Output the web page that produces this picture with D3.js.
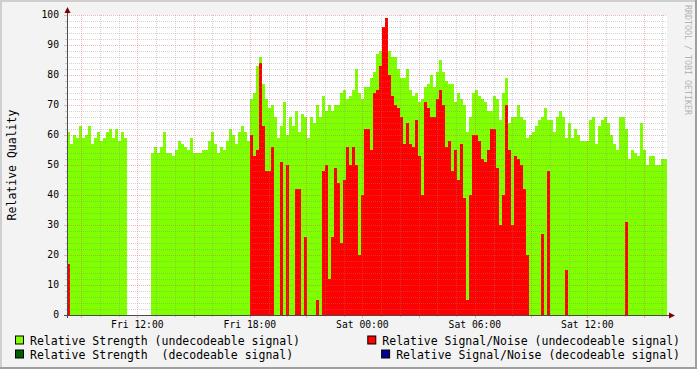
<!DOCTYPE html>
<html><head><meta charset="utf-8">
<script src="https://cdn.jsdelivr.net/npm/d3@7/dist/d3.min.js"></script>
<style>body{margin:0;background:#f3f3f3}svg{display:block}</style>
</head><body><svg id="c" width="697" height="369"></svg>
<script>
// ---- data ----
const startTime = Date.UTC(2010, 0, 1, 8, 15);  // Fri 08:15
const endTime   = Date.UTC(2010, 0, 2, 16, 15); // Sat 16:15
const _ = null;
const strengthUndecodeable = [
 61,57,60,59,63,59,60,63,57,59,61,58,59,61,62,59,62,58,61,59,
 _,_,_,_,_,_,_,_,
 54,56,54,56,61,54,54,53,55,58,57,56,55,59,54,54,54,55,55,58,61,57,54,56,55,58,62,60,57,61,63,61,58,
 72,74,83,86,77,72,69,70,66,59,63,71,60,66,63,68,61,67,66,59,66,64,70,66,73,68,70,68,70,70,
 74,75,72,73,75,82,74,72,76,76,79,81,87,88,91,92,88,86,86,82,79,79,82,75,73,74,71,72,76,77,
 80,76,81,85,81,78,77,77,71,74,72,70,61,66,74,75,73,72,71,68,68,73,72,65,74,79,64,66,66,70,
 66,65,59,60,61,63,65,66,69,65,65,61,66,68,66,59,64,59,62,60,58,58,58,65,66,57,63,65,66,64,
 60,57,55,66,66,62,52,55,54,53,64,55,50,53,53,50,50,52,52
];
const snrUndecodeable = [
 17,0,0,0,0,0,0,0,0,0,0,0,0,0,0,0,0,0,0,0,
 _,_,_,_,_,_,_,_,
 0,0,0,0,0,0,0,0,0,0,0,0,0,0,0,0,0,0,0,0,0,0,0,0,0,0,0,0,0,0,0,0,0,
 60,53,55,84,63,48,48,56,0,0,51,0,50,0,0,42,42,0,26,0,0,0,5,0,48,50,12,26,49,44,
 24,45,56,50,56,50,20,40,62,62,55,74,75,83,96,99,80,73,70,69,66,57,64,57,56,65,53,40,71,69,
 66,66,72,75,70,56,58,48,55,45,57,39,5,40,60,60,58,52,51,55,62,62,49,30,40,70,55,30,53,52,
 50,42,20,0,0,0,0,27,0,48,0,0,0,0,0,15,0,0,0,0,0,0,0,0,0,0,0,0,0,0,
 0,0,0,0,0,31,0,0,0,0,0,0,0,0,0,0,0,0,0
];
const strengthDecodeable = strengthUndecodeable.map(() => null);
const snrDecodeable = strengthUndecodeable.map(() => null);
const yTicks = [0,10,20,30,40,50,60,70,80,90,100];
const legendLabels = [
 "Relative Strength (undecodeable signal)",
 "Relative Signal/Noise (undecodeable signal)",
 "Relative Strength  (decodeable signal)",
 "Relative Signal/Noise (decodeable signal)"
];
const seriesColors = ["#80ff00", "#ff0000", "#006000", "#000090"];

// ---- layout ----
const W = 697, H = 369;
const L = 67, R = 667, T = 15, B = 315;
const MONO = "'DejaVu Sans Mono', monospace";
const svg = d3.select("#c");

svg.append("rect").attr("width", W).attr("height", H).attr("fill", "#f3f3f3");
// 3D frame
svg.append("rect").attr("x",0).attr("y",0).attr("width",W).attr("height",2).attr("fill","#cfcfcf");
svg.append("rect").attr("x",0).attr("y",0).attr("width",2).attr("height",H).attr("fill","#cfcfcf");
svg.append("rect").attr("x",W-2).attr("y",0).attr("width",2).attr("height",H).attr("fill","#9e9e9e");
svg.append("rect").attr("x",0).attr("y",H-2).attr("width",W).attr("height",2).attr("fill","#9e9e9e");

svg.append("rect").attr("x", L).attr("y", T).attr("width", R - L).attr("height", B - T).attr("fill", "#fff");

const x = d3.scaleUtc().domain([startTime, endTime]).range([L, R]);
const y = d3.scaleLinear().domain([0, 100]).range([B, T]);
const n = strengthUndecodeable.length;
const step = (endTime - startTime) / n;
const t = i => startTime + i * step;

function drawSeries(vals, color) {
  const pts = vals.map((v, i) => ({v, i})).filter(d => d.v != null && d.v > 0);
  svg.append("g").selectAll("rect").data(pts).join("rect")
    .attr("x", d => x(t(d.i)))
    .attr("width", d => x(t(d.i + 1)) - x(t(d.i)) + 0.02)
    .attr("y", d => y(d.v))
    .attr("height", d => y(0) - y(d.v))
    .attr("fill", color)
    .attr("shape-rendering", "crispEdges");
}
drawSeries(strengthUndecodeable, seriesColors[0]);
drawSeries(snrUndecodeable, seriesColors[1]);
drawSeries(strengthDecodeable, seriesColors[2]);
drawSeries(snrDecodeable, seriesColors[3]);

// ---- grid ----
const grid = svg.append("g").attr("shape-rendering", "crispEdges");
const minorCol = "rgba(140,140,140,0.38)", majorCol = "rgba(222,80,80,0.42)";
d3.range(0, 101, 2).forEach(v => {
  const major = v % 10 === 0;
  if (v === 0) return;
  grid.append("line").attr("x1", L).attr("x2", R).attr("y1", y(v) + 0.5).attr("y2", y(v) + 0.5)
    .attr("stroke", major ? majorCol : minorCol).attr("stroke-dasharray", "1,1");
  grid.append("line").attr("x1", L - (major ? 3 : 2)).attr("x2", L).attr("y1", y(v) + 0.5).attr("y2", y(v) + 0.5)
    .attr("stroke", major ? majorCol : minorCol);
});
const hours = d3.utcHour.every(1).range(new Date(startTime), new Date(endTime));
hours.forEach(h => {
  const major = h.getUTCHours() % 3 === 0;
  const xx = Math.round(x(h)) + 0.5;
  grid.append("line").attr("x1", xx).attr("x2", xx).attr("y1", T).attr("y2", B)
    .attr("stroke", major ? majorCol : minorCol).attr("stroke-dasharray", "1,1");
  grid.append("line").attr("x1", xx).attr("x2", xx).attr("y1", B).attr("y2", B + (major ? 3 : 2))
    .attr("stroke", major ? majorCol : minorCol);
});

// ---- axes ----
const axisCol = "#4a4a4a", arrowCol = "#7f0000";
svg.append("line").attr("x1", L - 3).attr("x2", R + 4).attr("y1", B + 0.5).attr("y2", B + 0.5)
  .attr("stroke", axisCol).attr("shape-rendering", "crispEdges");
svg.append("line").attr("x1", L + 0.5).attr("x2", L + 0.5).attr("y1", B + 3).attr("y2", T - 4)
  .attr("stroke", axisCol).attr("shape-rendering", "crispEdges");
svg.append("path").attr("d", `M${R+2},${B-2.5}L${R+8},${B+0.5}L${R+2},${B+3.5}Z`).attr("fill", arrowCol);
svg.append("path").attr("d", `M${L-2.5},${T-2}L${L+0.5},${T-8}L${L+3.5},${T-2}Z`).attr("fill", arrowCol);

// y labels
svg.append("g").selectAll("text").data(yTicks).join("text")
  .attr("x", L - 8).attr("y", d => y(d)).attr("dy", "0.35em")
  .attr("text-anchor", "end").attr("font-family", MONO).attr("font-size", "9.7px").attr("fill", "#000")
  .text(d => d);

// x labels
const fmt = d3.utcFormat("%a %H:%M");
const labelHours = d3.utcHour.every(6).range(new Date(startTime), new Date(endTime));
svg.append("g").selectAll("text").data(labelHours).join("text")
  .attr("x", d => x(d)).attr("y", 327.5).attr("text-anchor", "middle")
  .attr("font-family", MONO).attr("font-size", "9.7px").attr("fill", "#000")
  .text(d => fmt(d));

// y title
svg.append("text").attr("transform", `translate(15.5,${(T + B) / 2}) rotate(-90)`)
  .attr("text-anchor", "middle").attr("font-family", MONO).attr("font-size", "11.5px").attr("fill", "#000")
  .text("Relative Quality");

// watermark
svg.append("text").attr("transform", "translate(685,5) rotate(90)")
  .attr("font-family", MONO).attr("font-size", "8.3px").attr("fill", "#b4b4b4")
  .text("RRDTOOL / TOBI OETIKER");

// legend
const legRows = [344.5, 358.5];
legendLabels.forEach((lab, i) => {
  const row = Math.floor(i / 2), col = i % 2;
  const txt = svg.append("text").attr("y", legRows[row])
    .attr("font-family", MONO).attr("font-size", "11.5px").attr("fill", "#000")
    .style("white-space", "pre").attr("xml:space", "preserve").text(lab);
  let tx;
  if (col === 0) { tx = 30; } else {
    const w = txt.node().getComputedTextLength();
    tx = 680 - w;
  }
  txt.attr("x", tx);
  svg.append("rect").attr("x", tx - 14.5).attr("y", legRows[row] - 8.5).attr("width", 8).attr("height", 8)
    .attr("fill", seriesColors[i]).attr("stroke", "#000").attr("stroke-width", 1);
});
</script></body></html>
